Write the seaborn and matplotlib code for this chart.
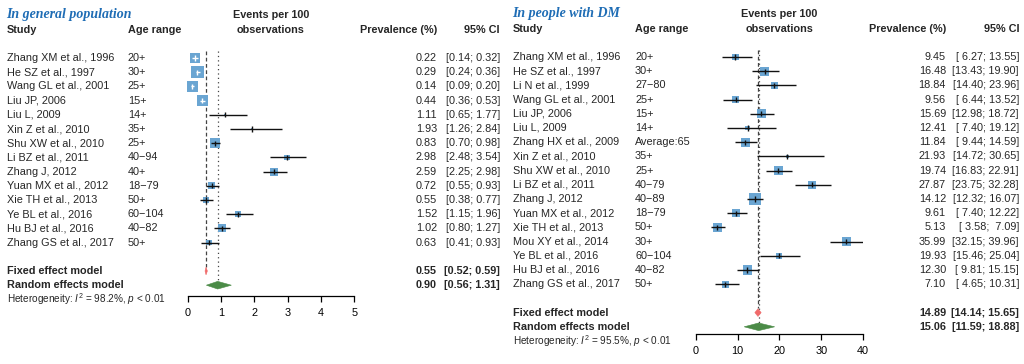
import numpy as np
import pandas as pd
import matplotlib
matplotlib.use("Agg")
import matplotlib.pyplot as plt
import matplotlib.transforms as mtransforms
from matplotlib.patches import Polygon
import seaborn as sns

# ---------------- data ----------------
gen_studies = ["Zhang XM et al., 1996", "He SZ et al., 1997", "Wang GL et al., 2001",
               "Liu JP, 2006", "Liu L, 2009", "Xin Z et al., 2010", "Shu XW et al., 2010",
               "Li BZ et al., 2011", "Zhang J, 2012", "Yuan MX et al., 2012",
               "Xie TH et al., 2013", "Ye BL et al., 2016", "Hu BJ et al., 2016",
               "Zhang GS et al., 2017"]
gen_ages = ["20+", "30+", "25+", "15+", "14+", "35+", "25+", "40\u221294", "40+",
            "18\u221279", "50+", "60\u2212104", "40\u221282", "50+"]
gen_est = [0.22, 0.29, 0.14, 0.44, 1.11, 1.93, 0.83, 2.98, 2.59, 0.72, 0.55, 1.52, 1.02, 0.63]
gen_lo = [0.14, 0.24, 0.09, 0.36, 0.65, 1.26, 0.70, 2.48, 2.25, 0.55, 0.38, 1.15, 0.80, 0.41]
gen_hi = [0.32, 0.36, 0.20, 0.53, 1.77, 2.84, 0.98, 3.54, 2.98, 0.93, 0.77, 1.96, 1.27, 0.93]
gen_weight = [8.9, 16.8, 13.9, 13.9, 0.6, 0.6, 11.3, 3.5, 6.8, 5.0, 5.0, 3.5, 6.8, 3.5]
gen_pooled_est = [0.55, 0.90]
gen_pooled_lo = [0.52, 0.56]
gen_pooled_hi = [0.59, 1.31]
gen_i2 = "98.2%"
gen_ticks = [0, 1, 2, 3, 4, 5]

dm_studies = ["Zhang XM et al., 1996", "He SZ et al., 1997", "Li N et al., 1999",
              "Wang GL et al., 2001", "Liu JP, 2006", "Liu L, 2009", "Zhang HX et al., 2009",
              "Xin Z et al., 2010", "Shu XW et al., 2010", "Li BZ et al., 2011",
              "Zhang J, 2012", "Yuan MX et al., 2012", "Xie TH et al., 2013",
              "Mou XY et al., 2014", "Ye BL et al., 2016", "Hu BJ et al., 2016",
              "Zhang GS et al., 2017"]
dm_ages = ["20+", "30+", "27\u221280", "25+", "15+", "14+", "Average:65", "35+", "25+",
           "40\u221279", "40\u221289", "18\u221279", "50+", "30+", "60\u2212104", "40\u221282", "50+"]
dm_est = [9.45, 16.48, 18.84, 9.56, 15.69, 12.41, 11.84, 21.93, 19.74, 27.87, 14.12,
          9.61, 5.13, 35.99, 19.93, 12.30, 7.10]
dm_lo = [6.27, 13.43, 14.40, 6.44, 12.98, 7.40, 9.44, 14.72, 16.83, 23.75, 12.32,
         7.40, 3.58, 32.15, 15.46, 9.81, 4.65]
dm_hi = [13.55, 19.90, 23.96, 13.52, 18.72, 19.12, 14.59, 30.65, 22.91, 32.28, 16.07,
         12.22, 7.09, 39.96, 25.04, 15.15, 10.31]
dm_weight = [4.1, 7.3, 4.1, 4.1, 7.3, 1.8, 7.3, 1.0, 7.3, 5.6, 13.8, 5.6, 7.3, 7.3, 2.9, 7.3, 4.1]
dm_pooled_est = [14.89, 15.06]
dm_pooled_lo = [14.14, 11.59]
dm_pooled_hi = [15.65, 18.88]
dm_i2 = "95.5%"
dm_ticks = [0, 10, 20, 30, 40]

titles = ["In general population", "In people with DM"]
pooled_labels = ["Fixed effect model", "Random effects model"]

# ---------------- style ----------------
sns.set_theme(style="white")
plt.rcParams["font.family"] = ["Liberation Sans", "DejaVu Sans"]
plt.rcParams["mathtext.fontset"] = "custom"
plt.rcParams["mathtext.it"] = "Liberation Sans:italic"
plt.rcParams["mathtext.rm"] = "Liberation Sans"

W, H = 1024, 364
ROW = 14.2
FS = 7.8
SQ = "#6aa5d2"
LINE = "#111111"
REF = "#444444"
FIXED_C = "#f06a6a"
RAND_C = "#4b8b47"
TITLE_C = "#1f6db5"

fig = plt.figure(figsize=(W / 100, H / 100), dpi=100)
fig.patch.set_facecolor("white")


def fx(px):
    return px / W


def panel(layout, title, studies, ages, est, lo, hi, weight, p_est, p_lo, p_hi, i2, ticks):
    x0, x1, row0, axis_px, c_study, c_age, c_prev, c_ci = layout
    ax = fig.add_axes([fx(x0), (H - axis_px) / H, fx(x1 - x0), axis_px / H])
    ax.set_xlim(ticks[0], ticks[-1])
    ax.set_ylim((axis_px - row0) / ROW, -row0 / ROW)
    ax.patch.set_alpha(0)
    tr = mtransforms.blended_transform_factory(fig.transFigure, ax.transData)

    n = len(studies)
    rows = np.arange(n)
    est = np.asarray(est); lo = np.asarray(lo); hi = np.asarray(hi)
    w = np.asarray(weight)
    side_px = 12.5 * np.sqrt(w / w.max())
    side_pt = side_px * 72 / 100
    px_per_unit = (x1 - x0) / (ticks[-1] - ticks[0])
    inside = (hi - lo) * px_per_unit < 0.8 * side_px

    # reference lines
    fixed_row, rand_row = n + 1, n + 2
    ax.vlines(p_est[0], -0.5, fixed_row - 0.3, colors=REF, lw=0.9,
              linestyles=(0, (3, 2)), zorder=1)
    ax.vlines(p_est[1], -0.5, rand_row - 0.3, colors=REF, lw=0.9,
              linestyles=(0, (1, 2.5)), zorder=1)

    # squares
    df = pd.DataFrame({"est": est, "row": rows})
    sns.scatterplot(data=df, x="est", y="row", marker="s", s=side_pt ** 2, color=SQ,
                    linewidth=0, ax=ax, legend=False, zorder=2, clip_on=False)
    # CI lines and ticks
    cols = ["white" if i else LINE for i in inside]
    ax.hlines(rows, lo, hi, colors=cols, lw=1.0, zorder=3)
    ax.scatter(est, rows, marker="|", s=14, c=cols, linewidths=1.0, zorder=4)

    # diamonds
    for k, (e, l, h, c) in enumerate(zip(p_est, p_lo, p_hi, [FIXED_C, RAND_C])):
        r = n + 1 + k
        ax.add_patch(Polygon([[l, r], [e, r - 0.27], [h, r], [e, r + 0.27]],
                             closed=True, facecolor=c, edgecolor=c, lw=0.4,
                             zorder=3, clip_on=False))

    # axis
    for s in ["top", "right", "left"]:
        ax.spines[s].set_visible(False)
    ax.spines["bottom"].set_color("black")
    ax.spines["bottom"].set_linewidth(0.9)
    ax.set_xticks(ticks)
    ax.set_xticklabels([str(t) for t in ticks])
    ax.tick_params(axis="x", bottom=True, direction="out", length=4, width=0.9,
                   colors="black", labelsize=FS, pad=5)
    ax.set_yticks([])
    ax.set_xlabel("")
    ax.set_ylabel("")

    # texts
    ax.text(fx(c_study - 1), -3.05, title, transform=tr, ha="left", va="center",
            family="Liberation Serif", weight="bold", style="italic", fontsize=10.0,
            color=TITLE_C)
    ax.text(fx(c_study), -2, "Study", transform=tr, ha="left", va="center",
            weight="bold", fontsize=FS)
    ax.text(fx(c_age), -2, "Age range", transform=tr, ha="left", va="center",
            weight="bold", fontsize=FS)
    ax.text(fx((x0 + x1) / 2), -3.05, "Events per 100", transform=tr, ha="center",
            va="center", weight="bold", fontsize=FS)
    ax.text(fx((x0 + x1) / 2), -2, "observations", transform=tr, ha="center",
            va="center", weight="bold", fontsize=FS)
    ax.text(fx(c_prev), -2, "Prevalence (%)", transform=tr, ha="right", va="center",
            weight="bold", fontsize=FS)
    ax.text(fx(c_ci), -2, "95% CI", transform=tr, ha="right", va="center",
            weight="bold", fontsize=FS)

    wl = max(len(f"{v:.2f}") for v in lo)
    wh = max(len(f"{v:.2f}") for v in hi)
    for i in range(n):
        ax.text(fx(c_study), i, studies[i], transform=tr, ha="left", va="center", fontsize=FS)
        ax.text(fx(c_age), i, ages[i], transform=tr, ha="left", va="center", fontsize=FS)
        ax.text(fx(c_prev), i, f"{est[i]:.2f}", transform=tr, ha="right", va="center",
                fontsize=FS)
        ax.text(fx(c_ci), i, f"[{lo[i]:{wl}.2f}; {hi[i]:{wh}.2f}]", transform=tr,
                ha="right", va="center", fontsize=FS)
    for k in range(2):
        r = n + 1 + k
        ax.text(fx(c_study), r, pooled_labels[k], transform=tr, ha="left", va="center",
                weight="bold", fontsize=FS)
        ax.text(fx(c_prev), r, f"{p_est[k]:.2f}", transform=tr, ha="right", va="center",
                weight="bold", fontsize=FS)
        ax.text(fx(c_ci), r, f"[{p_lo[k]:.2f}; {p_hi[k]:.2f}]", transform=tr, ha="right",
                va="center", weight="bold", fontsize=FS)
    ax.text(fx(c_study), n + 3,
            r"Heterogeneity: $I^2$ = " + i2 + r", $p$ < 0.01",
            transform=tr, ha="left", va="center", fontsize=7.2)
    return ax


panel((187.7, 354.3, 58, 296, 7, 128, 437, 500), titles[0], gen_studies, gen_ages,
      gen_est, gen_lo, gen_hi, gen_weight, gen_pooled_est, gen_pooled_lo, gen_pooled_hi,
      gen_i2, gen_ticks)
panel((695.7, 863.0, 57, 334, 513, 635, 946, 1019), titles[1], dm_studies, dm_ages,
      dm_est, dm_lo, dm_hi, dm_weight, dm_pooled_est, dm_pooled_lo, dm_pooled_hi,
      dm_i2, dm_ticks)

fig.savefig("out.png", dpi=100, facecolor="white")
